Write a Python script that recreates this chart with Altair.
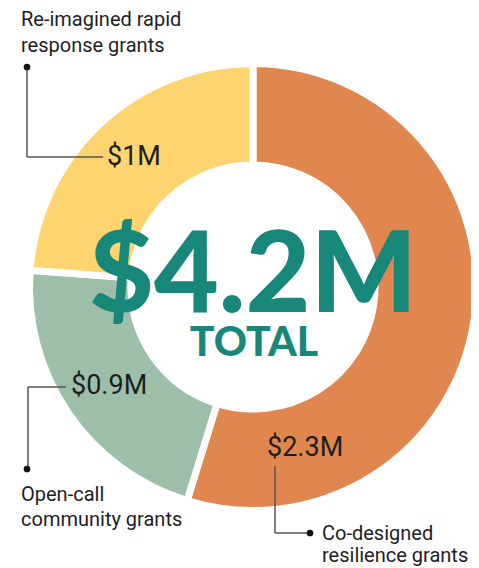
import altair as alt
import pandas as pd

# ---- data ----
categories = ["Co-designed resilience grants", "Open-call community grants", "Re-imagined rapid response grants"]
values = [2.3, 0.9, 1.0]
value_labels = ["$2.3M", "$0.9M", "$1M"]
name_lines = [["Co-designed", "resilience grants"], ["Open-call", "community grants"], ["Re-imagined rapid", "response grants"]]
slice_order = [1, 2, 3]
colors = ["#E0864F", "#9DBFA9", "#FDD46D"]
total_label = "$4.2M"
total_word = "TOTAL"

df = pd.DataFrame({"category": categories, "value": values, "order": slice_order})

OX, OY = 8, 8
def px(x):
    return x - OX
def py(y):
    return y - OY

one = alt.Data(values=[{"a": 1}])
TEAL = "#17877A"
INK = "#1E1E1E"
LINE = "#555555"

donut = alt.Chart(df).mark_arc(innerRadius=122, outerRadius=223.5, stroke="white", strokeWidth=7).encode(
    theta=alt.Theta("value:Q", stack=True),
    color=alt.Color("category:N", scale=alt.Scale(domain=categories, range=colors), legend=None),
    order=alt.Order("order:Q", sort="ascending"),
    x=alt.value(px(253)),
    y=alt.value(py(287)),
)

layers = [donut]

def text(t, x, y, size, color=INK, weight="normal", font="Roboto", align="left", baseline="middle"):
    return alt.Chart(one).mark_text(
        font=font, fontSize=size, fontWeight=weight, color=color, align=align, baseline=baseline
    ).encode(x=alt.value(px(x)), y=alt.value(py(y)), text=alt.value(t))

def rule(x1, y1, x2, y2):
    return alt.Chart(one).mark_rule(color=LINE, strokeWidth=1.5).encode(
        x=alt.value(px(x1)), y=alt.value(py(y1)), x2=alt.value(px(x2)), y2=alt.value(py(y2))
    )

def dot(x, y):
    return alt.Chart(one).mark_circle(size=45, color="#111111", opacity=1).encode(
        x=alt.value(px(x)), y=alt.value(py(y))
    )

# center text
layers.append(text(total_label, 253, 312, 112, TEAL, 900, "Lato", "center", "alphabetic"))
layers.append(text(total_word, 254, 356, 41, TEAL, 900, "Lato", "center", "alphabetic"))

# Co-designed (orange)
layers.append(text(value_labels[0], 267, 448, 27))
layers.append(rule(275, 466, 275, 533))
layers.append(rule(275, 533, 310, 533))
layers.append(dot(310, 533))
layers.append(text(name_lines[0][0], 322, 534, 20))
layers.append(text(name_lines[0][1], 322, 556, 20))

# Open-call (green)
layers.append(text(value_labels[1], 71, 386, 27))
layers.append(rule(28, 387, 66, 387))
layers.append(rule(28, 387, 28, 469))
layers.append(dot(27, 469))
layers.append(text(name_lines[1][0], 21, 495, 20))
layers.append(text(name_lines[1][1], 21, 520, 20))

# Re-imagined (yellow)
layers.append(text(value_labels[2], 107, 157, 27))
layers.append(rule(27, 67, 27, 157))
layers.append(rule(27, 157, 103, 157))
layers.append(dot(27, 67))
layers.append(text(name_lines[2][0], 21, 20, 20))
layers.append(text(name_lines[2][1], 21, 46, 20))

chart = alt.layer(*layers).properties(
    width=463, height=560, padding=0, autosize=alt.AutoSizeParams(type="none")
).configure_view(stroke=None)

chart.save("out.html", embed_options={"renderer": "svg", "actions": False})
